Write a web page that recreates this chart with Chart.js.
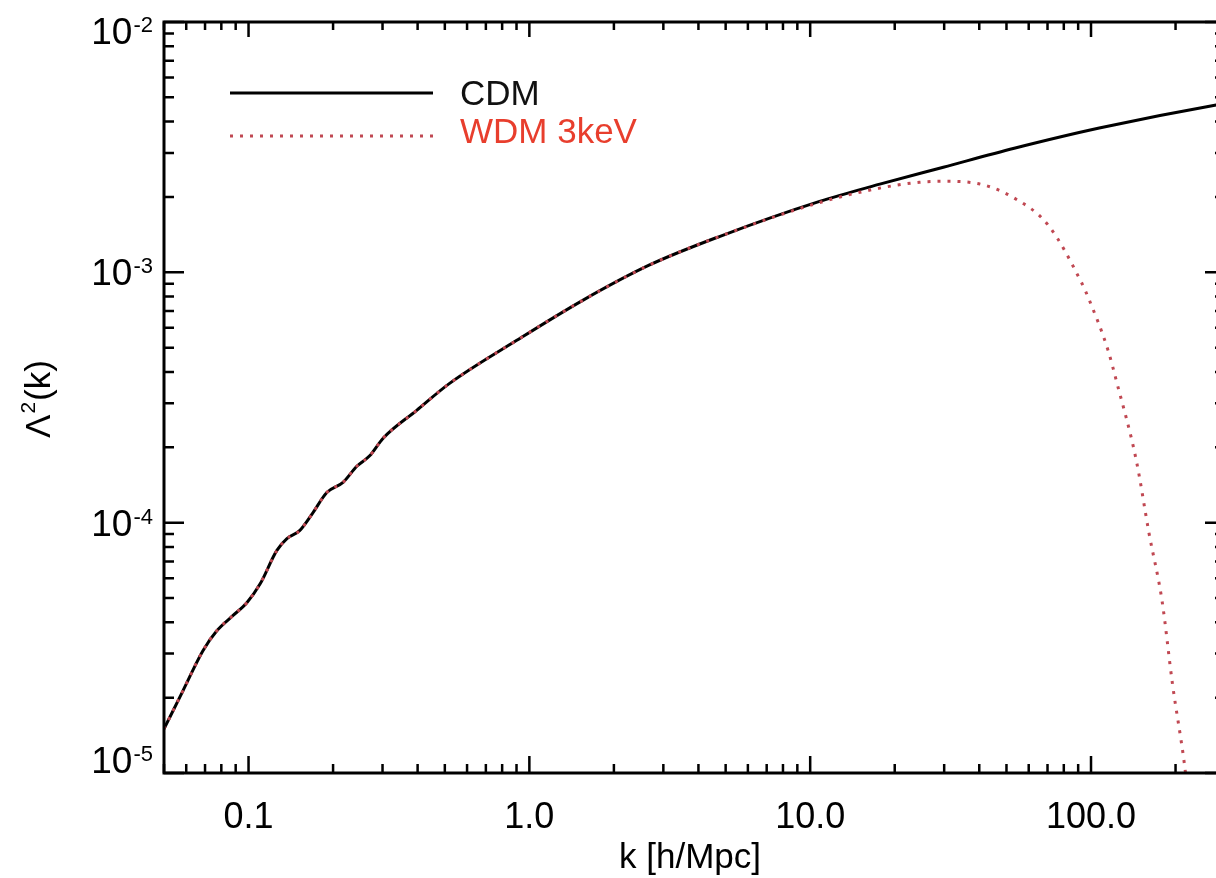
<!DOCTYPE html>
<html>
<head>
<meta charset="utf-8">
<script src="https://cdn.jsdelivr.net/npm/chart.js@4.4.1/dist/chart.umd.min.js"></script>
<style>
  html, body { margin: 0; padding: 0; background: #fff; overflow: hidden; }
  #wrap { width: 1240px; height: 878px; }
</style>
</head>
<body>
<div id="wrap"><canvas id="myChart" width="1240" height="878"></canvas></div>
<script>
// values
var kCDM = [0.05, 0.0584, 0.0688, 0.0771, 0.0879, 0.0986, 0.110, 0.126, 0.137, 0.152, 0.169, 0.190, 0.217, 0.243, 0.27, 0.301, 0.397, 0.520, 0.902, 1.549, 2.68, 4.75, 10.8, 17.7, 29.8, 53.3, 107, 279, 300];
var cdm  = [1.50e-5, 2.13e-5, 3.08e-5, 3.70e-5, 4.25e-5, 4.79e-5, 5.70e-5, 7.73e-5, 8.63e-5, 9.29e-5, 1.09e-4, 1.32e-4, 1.45e-4, 1.68e-4, 1.85e-4, 2.17e-4, 2.81e-4, 3.60e-4, 5.35e-4, 7.73e-4, 1.07e-3, 1.39e-3, 1.92e-3, 2.25e-3, 2.63e-3, 3.13e-3, 3.77e-3, 4.66e-3, 4.72e-3];

var kWDM = [0.05, 0.0584, 0.0688, 0.0771, 0.0879, 0.0986, 0.110, 0.126, 0.137, 0.152, 0.169, 0.190, 0.217, 0.243, 0.27, 0.301, 0.397, 0.520, 0.902, 1.549, 2.68, 4.75, 10.8, 17.7, 24.5, 29.8, 40.4, 53.3, 70.5, 92.4, 98.7, 115, 123, 145, 161, 179, 195, 215, 225];
var wdm  = [1.50e-5, 2.13e-5, 3.08e-5, 3.70e-5, 4.25e-5, 4.79e-5, 5.70e-5, 7.73e-5, 8.63e-5, 9.29e-5, 1.09e-4, 1.32e-4, 1.45e-4, 1.68e-4, 1.85e-4, 2.17e-4, 2.81e-4, 3.60e-4, 5.35e-4, 7.73e-4, 1.07e-3, 1.39e-3, 1.90e-3, 2.17e-3, 2.29e-3, 2.31e-3, 2.25e-3, 1.98e-3, 1.54e-3, 9.12e-4, 7.73e-4, 4.88e-4, 3.70e-4, 1.77e-4, 9.04e-5, 4.88e-5, 2.27e-5, 1.09e-5, 7.0e-6];

var xTickVals = [0.1, 1, 10, 100];
var xTickLabels = ['0.1', '1.0', '10.0', '100.0'];
var yTickVals = [1e-5, 1e-4, 1e-3, 1e-2];
var yTickExp = ['-5', '-4', '-3', '-2'];

var seriesNames = ['CDM', 'WDM 3keV'];

var FONT = '"Liberation Sans", Arial, Helvetica, sans-serif';
var wdmColor = 'rgb(192,72,82)';
var wdmText = 'rgb(232,62,45)';

function pts(ks, vs) {
    var out = [];
    for (var i in ks) out.push({x: ks[i], y: vs[i]});
    return out;
}

// minor+major tick values of a log axis
function logTicks(min, max) {
    var list = [];
    for (var d = Math.floor(Math.log10(min)); d <= Math.ceil(Math.log10(max)); d++) {
        for (var m = 1; m <= 9; m++) {
            var v = m * Math.pow(10, d);
            if (v >= min * 0.9999 && v <= max * 1.0001) list.push({v: v, major: m == 1});
        }
    }
    return list;
}

var framePlugin = {
    id: 'frame',
    afterDraw: function(chart) {
        var ctx = chart.ctx;
        var a = chart.chartArea;
        var xs = chart.scales.x, ys = chart.scales.y;
        ctx.save();
        ctx.strokeStyle = '#000';
        ctx.fillStyle = '#000';

        // box
        ctx.lineWidth = 3;
        ctx.strokeRect(a.left, a.top, a.right - a.left, a.bottom - a.top);

        // x ticks (bottom and top, pointing in)
        ctx.lineWidth = 2.5;
        logTicks(xs.min, xs.max).forEach(function(t) {
            var px = xs.getPixelForValue(t.v);
            var lb = t.major ? 17 : 9;
            var lt = t.major ? 15 : 8;
            ctx.beginPath();
            ctx.moveTo(px, a.bottom); ctx.lineTo(px, a.bottom - lb);
            ctx.moveTo(px, a.top); ctx.lineTo(px, a.top + lt);
            ctx.stroke();
        });
        // y ticks (left and right)
        logTicks(ys.min, ys.max).forEach(function(t) {
            var py = ys.getPixelForValue(t.v);
            var l = t.major ? 20 : 10;
            ctx.beginPath();
            ctx.moveTo(a.left, py); ctx.lineTo(a.left + l, py);
            ctx.moveTo(a.right, py); ctx.lineTo(a.right - l, py);
            ctx.stroke();
        });

        // x tick labels
        ctx.font = '36px ' + FONT;
        ctx.textAlign = 'center';
        ctx.textBaseline = 'alphabetic';
        for (var i in xTickVals) {
            ctx.fillText(xTickLabels[i], xs.getPixelForValue(xTickVals[i]), 828);
        }

        // y tick labels 10^n
        for (var j in yTickVals) {
            var py = ys.getPixelForValue(yTickVals[j]);
            if (py < a.top + 8) py = a.top + 9;
            if (py > a.bottom - 8) py = a.bottom - 13;
            ctx.font = '22px ' + FONT;
            ctx.textAlign = 'right';
            var supW = ctx.measureText(yTickExp[j]).width;
            ctx.fillText(yTickExp[j], 153, py + 1);
            ctx.font = '37px ' + FONT;
            ctx.fillText('10', 153 - supW - 1, py + 13);
        }

        // axis titles
        ctx.font = '35px ' + FONT;
        ctx.textAlign = 'center';
        ctx.fillText('k [h/Mpc]', 690, 868);

        ctx.save();
        ctx.translate(50, 400);
        ctx.rotate(-Math.PI / 2);
        ctx.textAlign = 'left';
        ctx.font = '35px ' + FONT;
        var w1 = ctx.measureText('\u039B').width;
        var w3 = ctx.measureText('(k)').width;
        ctx.font = '21px ' + FONT;
        var w2 = ctx.measureText('2').width;
        var x0 = -(w1 + w2 + w3) / 2;
        ctx.font = '35px ' + FONT;
        ctx.fillText('\u039B', x0, 0);
        ctx.font = '21px ' + FONT;
        ctx.fillText('2', x0 + w1 + 1, -15);
        ctx.font = '35px ' + FONT;
        ctx.fillText('(k)', x0 + w1 + w2 + 2, 0);
        ctx.restore();

        // legend
        ctx.lineWidth = 3;
        ctx.strokeStyle = '#000';
        ctx.beginPath(); ctx.moveTo(230, 93); ctx.lineTo(433, 93); ctx.stroke();
        ctx.strokeStyle = wdmColor;
        ctx.setLineDash([3, 7]);
        ctx.beginPath(); ctx.moveTo(230, 136); ctx.lineTo(433, 136); ctx.stroke();
        ctx.setLineDash([]);
        ctx.font = '35px ' + FONT;
        ctx.textAlign = 'left';
        ctx.fillStyle = '#111';
        ctx.fillText(seriesNames[0], 460, 105);
        ctx.fillStyle = wdmText;
        ctx.fillText(seriesNames[1], 460, 143);
        ctx.restore();
    }
};

var ctx = document.getElementById('myChart');
var myChart = new Chart(ctx, {
    type: 'line',
    data: {
        datasets: [{
            label: seriesNames[0],
            data: pts(kCDM, cdm),
            borderColor: '#000',
            borderWidth: 3,
            pointRadius: 0,
            fill: false,
            cubicInterpolationMode: 'monotone',
            order: 2
        }, {
            label: seriesNames[1],
            data: pts(kWDM, wdm),
            borderColor: wdmColor,
            borderWidth: 3,
            borderDash: [3, 7],
            pointRadius: 0,
            fill: false,
            cubicInterpolationMode: 'monotone',
            order: 1
        }]
    },
    options: {
        responsive: false,
        animation: false,
        layout: { padding: { left: 164, top: 22, right: 15, bottom: 105 } },
        plugins: { legend: { display: false }, tooltip: { enabled: false } },
        scales: {
            x: { type: 'logarithmic', min: 0.05, max: 300, display: false },
            y: { type: 'logarithmic', min: 1e-5, max: 1e-2, display: false }
        }
    },
    plugins: [framePlugin]
});
</script>
</body>
</html>
